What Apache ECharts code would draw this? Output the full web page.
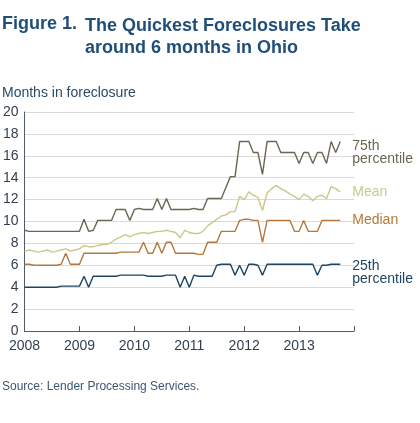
<!DOCTYPE html>
<html>
<head>
<meta charset="utf-8">
<script src="https://cdn.jsdelivr.net/npm/echarts@6/dist/echarts.min.js"></script>
<style>
    html, body { margin: 0; padding: 0; background: #fff; }
    #chart { width: 420px; height: 423px; }
</style>
</head>
<body>
<div id="chart"></div>
<script>
// monthly categories, Jan 2008 .. Jan 2014 (axis end)
var years = ['2008', '2009', '2010', '2011', '2012', '2013'];
var monthNames = ['01', '02', '03', '04', '05', '06', '07', '08', '09', '10', '11', '12'];
var yTicks = [0, 2, 4, 6, 8, 10, 12, 14, 16, 18, 20];

// months in foreclosure, Jan 2008 .. Oct 2013
var p75 = [9.2, 9.1, 9.1, 9.1, 9.1, 9.1, 9.1, 9.1, 9.1, 9.1, 9.1, 9.1,
    9.1, 10.2, 9.1, 9.2, 10.1, 10.1, 10.1, 10.1, 11.1, 11.1, 11.1, 10.1,
    11.1, 11.2, 11.1, 11.1, 11.1, 12.1, 11.1, 12.1, 11.1, 11.1, 11.1, 11.1,
    11.1, 11.2, 11.1, 11.1, 12.1, 12.1, 12.1, 12.1, 13.1, 14.1, 14.1, 17.3,
    17.3, 17.3, 16.3, 16.3, 14.3, 17.3, 17.3, 17.3, 16.3, 16.3, 16.3, 16.3,
    15.3, 16.3, 16.3, 15.3, 16.3, 16.3, 15.3, 17.3, 16.3, 17.3];
var mean = [7.3, 7.4, 7.3, 7.2, 7.3, 7.4, 7.2, 7.3, 7.4, 7.5, 7.3, 7.4,
    7.5, 7.8, 7.7, 7.7, 7.8, 7.9, 7.9, 8.1, 8.4, 8.6, 8.8, 8.6,
    8.8, 8.9, 9.0, 8.9, 9.0, 9.1, 9.1, 9.2, 9.1, 9.0, 8.5, 9.2,
    9.0, 8.9, 8.9, 9.1, 9.6, 9.9, 10.2, 10.5, 10.6, 10.9, 10.9, 12.3,
    12.0, 12.7, 12.4, 12.2, 11.0, 12.6, 13.0, 13.3, 13.0, 12.8, 12.5, 12.3,
    12.0, 12.5, 12.3, 11.9, 12.3, 12.4, 12.1, 13.2, 13.0, 12.7];
var median = [6.1, 6.1, 6.0, 6.0, 6.0, 6.0, 6.0, 6.0, 6.1, 7.1, 6.1, 6.1,
    6.1, 7.1, 7.1, 7.1, 7.1, 7.1, 7.1, 7.1, 7.1, 7.2, 7.2, 7.2,
    7.2, 7.2, 8.1, 7.1, 7.1, 8.1, 7.1, 8.1, 8.1, 7.1, 7.1, 7.1,
    7.1, 7.1, 7.0, 7.0, 8.1, 8.1, 8.1, 9.1, 9.1, 9.1, 9.1, 10.1,
    10.2, 10.2, 10.1, 10.1, 8.1, 10.1, 10.1, 10.1, 10.1, 10.1, 10.1, 9.1,
    9.1, 10.1, 9.1, 9.1, 9.1, 10.1, 10.1, 10.1, 10.1, 10.1];
var p25 = [4.0, 4.0, 4.0, 4.0, 4.0, 4.0, 4.0, 4.0, 4.1, 4.1, 4.1, 4.1,
    4.1, 5.0, 4.0, 5.0, 5.0, 5.0, 5.0, 5.0, 5.0, 5.1, 5.1, 5.1,
    5.1, 5.1, 5.1, 5.0, 5.0, 5.0, 5.0, 5.1, 5.1, 5.1, 4.0, 5.0,
    4.0, 5.1, 5.0, 5.0, 5.0, 5.0, 6.0, 6.1, 6.1, 6.1, 5.1, 6.0,
    5.1, 6.1, 6.1, 6.0, 5.1, 6.1, 6.1, 6.1, 6.1, 6.1, 6.1, 6.1,
    6.1, 6.1, 6.1, 6.1, 5.1, 6.0, 6.0, 6.1, 6.1, 6.1];

var seriesNames = ['75th\npercentile', 'Mean', 'Median', '25th\npercentile'];

! function() {
    'use strict'
    var months = [];
    years.forEach(function(y) {
        monthNames.forEach(function(m) { months.push(y + '-' + m); });
    });
    months.push('2014-01');

    var font = 'Liberation Sans, Arial, sans-serif';
    var colors = ['#6b6552', '#c8c98a', '#b5773c', '#1f4563'];
    var labelShift = [11, 0, 0, 8];

    function line(name, data, i) {
        return {
            name: name,
            type: 'line',
            data: data,
            symbol: 'none',
            animation: false,
            lineStyle: { color: colors[i], width: 1.4 },
            itemStyle: { color: colors[i] },
            endLabel: {
                show: true,
                formatter: name,
                color: colors[i],
                fontFamily: font,
                fontSize: 14,
                lineHeight: 13,
                distance: 12,
                offset: [0, labelShift[i]]
            }
        };
    }

    var chart = echarts.init(document.getElementById('chart'));
    chart.setOption({
        backgroundColor: '#fff',
        title: [{
            text: 'Figure 1.',
            left: 2, top: 15, padding: 0,
            textStyle: { fontFamily: font, fontSize: 18, fontWeight: 'bold', color: '#1f4e79' }
        }, {
            text: 'The Quickest Foreclosures Take\naround 6 months in Ohio',
            left: 85, top: 15, padding: 0,
            textStyle: { fontFamily: font, fontSize: 18, fontWeight: 'bold', color: '#1f4e79', lineHeight: 22 }
        }, {
            text: 'Months in foreclosure',
            left: 2, top: 86, padding: 0,
            textStyle: { fontFamily: font, fontSize: 14, fontWeight: 'normal', color: '#2b4a66' }
        }, {
            text: 'Source: Lender Processing Services.',
            left: 2, top: 381, padding: 0,
            textStyle: { fontFamily: font, fontSize: 12, fontWeight: 'normal', color: '#3d5670' }
        }],
        grid: { left: 23, right: 66, top: 112, bottom: 92 },
        xAxis: {
            type: 'category',
            data: months,
            boundaryGap: false,
            axisLine: { lineStyle: { color: '#4f5d6b', width: 1 } },
            axisTick: { inside: true, length: 5, interval: 11, lineStyle: { color: '#4f5d6b' } },
            axisLabel: {
                interval: 11,
                margin: 8,
                fontFamily: font,
                fontSize: 14,
                color: '#2f3f50',
                formatter: function(v) {
                    var y = v.slice(0, 4);
                    return years.indexOf(y) >= 0 ? y : '';
                }
            },
            splitLine: { show: false }
        },
        yAxis: {
            type: 'value',
            min: yTicks[0],
            max: yTicks[yTicks.length - 1],
            interval: 2,
            axisLine: { show: true, lineStyle: { color: '#4f5d6b', width: 1 } },
            axisTick: { show: false },
            axisLabel: { margin: 6, fontFamily: font, fontSize: 14, color: '#2f3f50' },
            splitLine: { lineStyle: { color: '#d9d9d9', width: 1 } }
        },
        series: [
            line(seriesNames[0], p75, 0),
            line(seriesNames[1], mean, 1),
            line(seriesNames[2], median, 2),
            line(seriesNames[3], p25, 3)
        ]
    });
}()
</script>
</body>
</html>
